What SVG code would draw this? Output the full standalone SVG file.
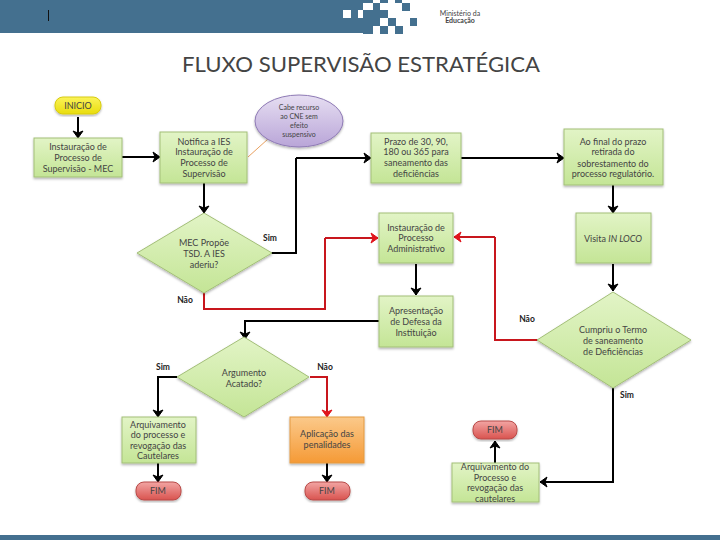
<svg xmlns="http://www.w3.org/2000/svg" width="720" height="540" viewBox="0 0 720 540">
<defs>
<linearGradient id="g" x1="0" y1="0" x2="0" y2="1"><stop offset="0" stop-color="#e2f4c6"/><stop offset="1" stop-color="#c4e596"/></linearGradient>
<linearGradient id="o" x1="0" y1="0" x2="0" y2="1"><stop offset="0" stop-color="#fbc98a"/><stop offset="1" stop-color="#f59a36"/></linearGradient>
<linearGradient id="r" x1="0" y1="0" x2="0" y2="1"><stop offset="0" stop-color="#f2a5a3"/><stop offset="1" stop-color="#d9534f"/></linearGradient>
<linearGradient id="y" x1="0" y1="0" x2="0" y2="1"><stop offset="0" stop-color="#fbf35a"/><stop offset="1" stop-color="#e9dd0c"/></linearGradient>
<linearGradient id="p" x1="0" y1="0" x2="0" y2="1"><stop offset="0" stop-color="#e6def2"/><stop offset="1" stop-color="#b9a5d8"/></linearGradient>
<filter id="sh" x="-10%" y="-10%" width="120%" height="125%"><feDropShadow dx="0" dy="1.5" stdDeviation="1" flood-color="#000" flood-opacity="0.3"/></filter>
<marker id="ak" markerUnits="userSpaceOnUse" markerWidth="10" markerHeight="12" refX="8" refY="6" orient="auto"><path d="M1 1L8 6L1 11L3 6Z" fill="#000" stroke="#000"/></marker>
<marker id="ar" markerUnits="userSpaceOnUse" markerWidth="10" markerHeight="12" refX="8" refY="6" orient="auto"><path d="M1 1L8 6L1 11L3 6Z" fill="#e0141c" stroke="#e0141c"/></marker>
</defs>
<style>
text{font-family:Lato,"Liberation Sans",sans-serif;fill:#444;font-size:9px;text-anchor:middle}
.n{stroke:#a3bf78;stroke-width:1;fill:url(#g);filter:url(#sh)}
.k,.d{fill:none;stroke-width:2}
.k{stroke:#000;marker-end:url(#ak)}
.k2{fill:none;stroke-width:2;stroke:#000}
.d{stroke:#c8161d;marker-end:url(#ar)}
.d2{fill:none;stroke-width:2;stroke:#c8161d}
text.l{font-weight:bold;font-size:8.5px;fill:#222}
text.e{font-size:7px}
.b{fill:#44708f}
.s{fill:#fff}
.f{filter:url(#sh)}
</style>
<g id="header">
<rect class="b" x="0" y="0" width="363" height="33"/>
<rect class="b" x="0" y="535" width="720" height="5"/>
<rect x="48" y="10" width="1" height="11" fill="#111"/>
<rect class="s" x="343" y="10" width="8" height="8"/>
<rect class="s" x="358" y="10" width="8" height="8"/>
<rect class="b" x="363" y="0" width="10" height="3"/>
<rect class="b" x="363" y="10" width="17" height="16"/>
<rect class="b" x="363" y="26" width="10" height="8"/>
<rect class="b" x="373" y="3" width="7" height="7"/>
<rect class="b" x="380" y="0" width="8" height="3"/>
<rect class="b" x="395" y="0" width="7" height="3"/>
<rect class="b" x="402" y="3" width="8" height="8"/>
<rect class="b" x="380" y="10" width="8" height="8"/>
<rect class="b" x="388" y="18" width="8" height="8"/>
<rect class="b" x="410" y="18" width="7" height="8"/>
<rect class="b" x="380" y="26" width="8" height="8"/>
<rect class="b" x="395" y="26" width="8" height="8"/>
<text x="460" y="16" style="font-size:7px">Ministério da</text>
<text x="460" y="23" style="font-size:7px;font-weight:bold">Educação</text>
<text x="361" y="72" textLength="358" lengthAdjust="spacingAndGlyphs" style="font-size:21px;fill:#444">FLUXO SUPERVISÃO ESTRATÉGICA</text>
</g>
<g id="connectors">
<path class="k" d="M78 117V138"/>
<path class="k" d="M121 157H160"/>
<path class="k" d="M204 183V213"/>
<path class="k2" d="M271 253H296V158"/>
<path class="k" d="M296 158H371"/>
<path class="k" d="M461 158H564"/>
<path class="k" d="M613 185V213"/>
<path class="k" d="M613 264V291"/>
<path class="k" d="M416 264V295"/>
<path class="k" d="M379 321H245V339"/>
<path class="d2" d="M204 293V309H325V238"/>
<path class="d" d="M325 238H378"/>
<path class="d" d="M495 237H454"/>
<path class="d2" d="M495 237V340H538"/>
<path class="k" d="M177 377H158V417"/>
<path class="d" d="M310 377H327V417"/>
<path class="k" d="M158 462V482"/>
<path class="k" d="M327 462V482"/>
<path class="k" d="M613 388V482H540"/>
<path class="k" d="M495 463V441"/>
<path d="M248 157L268 139" fill="none" stroke="#e8a060" stroke-width="1"/>
</g>
<g id="inicio"><rect class="f" x="55" y="97" width="46" height="17" rx="8" fill="url(#y)" stroke="#d8cc10"/><text x="78" y="109">INICIO</text></g>
<g id="instauracao"><rect class="n" x="34" y="138" width="88" height="39"/><text x="78" y="150">Instauração de</text><text x="78" y="161">Processo de</text><text x="78" y="172">Supervisão - MEC</text></g>
<g id="notifica"><rect class="n" x="160" y="132" width="87" height="51"/><text x="204" y="145">Notifica a IES</text><text x="204" y="155">Instauração de</text><text x="204" y="166">Processo de</text><text x="204" y="177">Supervisão</text></g>
<g id="recurso"><ellipse class="f" cx="299" cy="121" rx="44" ry="26" fill="url(#p)" stroke="#8e7ab5"/><text class="e" x="299" y="110">Cabe recurso</text><text class="e" x="299" y="119">ao CNE sem</text><text class="e" x="299" y="128">efeito</text><text class="e" x="299" y="137">suspensivo</text></g>
<g id="mec"><polygon class="n" points="204,213 272,253 204,293 137,253"/><text x="204" y="246">MEC Propõe</text><text x="204" y="257">TSD. A IES</text><text x="204" y="268">aderiu?</text></g>
<g id="prazo"><rect class="n" x="371" y="133" width="90" height="50"/><text x="416" y="145">Prazo de 30, 90,</text><text x="416" y="155">180 ou 365 para</text><text x="416" y="166">saneamento das</text><text x="416" y="177">deficiências</text></g>
<g id="final"><rect class="n" x="564" y="129" width="99" height="56"/><text x="613" y="145">Ao final do prazo</text><text x="613" y="155">retirada do</text><text x="613" y="167">sobrestamento do</text><text x="613" y="177">processo regulatório.</text></g>
<g id="visita"><rect class="n" x="576" y="213" width="75" height="50"/><text x="613" y="242">Visita <tspan font-style="italic">IN LOCO</tspan></text></g>
<g id="administrativo"><rect class="n" x="379" y="213" width="74" height="50"/><text x="416" y="231">Instauração de</text><text x="416" y="241">Processo</text><text x="416" y="252">Administrativo</text></g>
<g id="defesa"><rect class="n" x="379" y="296" width="74" height="51"/><text x="416" y="314">Apresentação</text><text x="416" y="325">de Defesa da</text><text x="416" y="336">Instituição</text></g>
<g id="cumpriu"><polygon class="n" points="613,292 691,340 613,388 537,340"/><text x="613" y="333">Cumpriu o Termo</text><text x="613" y="344">de saneamento</text><text x="613" y="355">de  Deficiências</text></g>
<g id="argumento"><polygon class="n" points="244,337 309,377 244,417 177,377"/><text x="244" y="376">Argumento</text><text x="244" y="387">Acatado?</text></g>
<g id="arquivamento1"><rect class="n" x="122" y="417" width="74" height="46"/><text x="158" y="428">Arquivamento</text><text x="158" y="438">do processo e</text><text x="158" y="449">revogação das</text><text x="158" y="459">Cautelares</text></g>
<g id="penalidades"><rect class="f" x="290" y="417" width="74" height="46" fill="url(#o)" stroke="#e39a40"/><text x="327" y="437">Aplicação das</text><text x="327" y="448">penalidades</text></g>
<g id="fim1"><rect class="f" x="136" y="482" width="45" height="18" rx="8" fill="url(#r)" stroke="#b84a48"/><text x="158" y="494">FIM</text></g>
<g id="fim2"><rect class="f" x="305" y="482" width="45" height="18" rx="8" fill="url(#r)" stroke="#b84a48"/><text x="327" y="494">FIM</text></g>
<g id="fim3"><rect class="f" x="473" y="421" width="44" height="18" rx="8" fill="url(#r)" stroke="#b84a48"/><text x="495" y="433">FIM</text></g>
<g id="arquivamento2"><rect class="n" x="452" y="463" width="87" height="39"/><text x="495" y="470">Arquivamento do</text><text x="495" y="481">Processo e</text><text x="495" y="491">revogação das</text><text x="495" y="502">cautelares</text></g>
<g id="labels"><text class="l" x="270" y="241">Sim</text><text class="l" x="185" y="303">Não</text><text class="l" x="527" y="322">Não</text><text class="l" x="163" y="370">Sim</text><text class="l" x="325" y="370">Não</text><text class="l" x="627" y="398">Sim</text></g>
</svg>
